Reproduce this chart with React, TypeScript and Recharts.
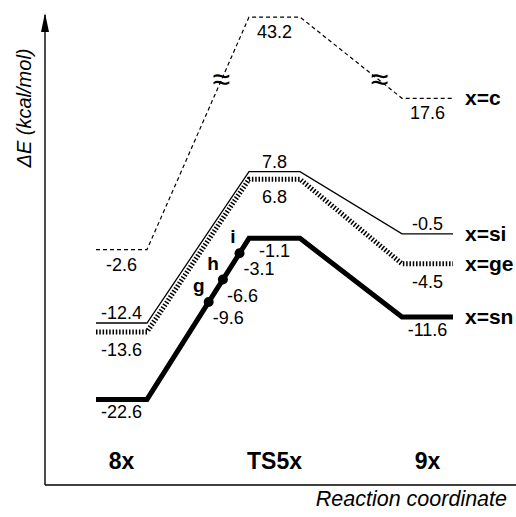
import { ComposedChart, Line, Scatter, XAxis, YAxis, ReferenceDot } from "recharts";

// energy levels (kcal/mol) for 8x -> TS5x -> 9x
const STATES = ["8x", "TS5x", "9x"];
const E_C = [-2.6, 43.2, 17.6];
const E_SI = [-12.4, 7.8, -0.5];
const E_GE = [-13.6, 6.8, -4.5];
const E_SN = [-22.6, -1.1, -11.6];

// marked points along the x=sn rise
const SN_MARKS = ["g", "h", "i"];
const SN_MARK_E = [-9.6, -6.6, -3.1];

// axis break for the x=c curve
const BREAK = 20;
const SQUEEZE = 0.364;
const squeeze = (v: number) => (v > BREAK ? BREAK + (v - BREAK) * SQUEEZE : v);

const FONT = '"Liberation Sans", Arial, Helvetica, sans-serif';

// each state is a flat level: start, middle, end
const levelX = (i: number) => 1 + 3 * i;
const rows = STATES.flatMap((_, i) =>
  [0, 0.5, 1].map((f) => ({
    x: levelX(i) + f,
    c: squeeze(E_C[i]),
    si: E_SI[i],
    ge: E_GE[i],
    sn: E_SN[i],
  }))
);

const snRise = (v: number) =>
  levelX(0) + 1 + ((v - E_SN[0]) / (E_SN[1] - E_SN[0])) * (levelX(1) - levelX(0) - 1);
const markRows = SN_MARKS.map((m, k) => ({ x: snRise(SN_MARK_E[k]), y: SN_MARK_E[k], name: m }));

const cTop = squeeze(E_C[1]);
const gap = levelX(1) - levelX(0) - 1;
const breakRows = [
  { x: levelX(0) + 1 + ((BREAK - E_C[0]) / (cTop - E_C[0])) * gap, y: BREAK },
  { x: levelX(1) + 1 + ((cTop - BREAK) / (cTop - E_C[2])) * gap, y: BREAK },
];

const Y_MIN = -34.03;
const Y_MAX = 28.72;
const W = 508;
const H = 506;
const X_AXIS_H = H - 7 - 470;

const makeLabel = (vals: number[], dy: number, name: string) => (props: any) => {
  const { x, y, index } = props;
  const i = Math.floor(index / 3);
  if (index % 3 === 1) {
    return (
      <text x={x} y={y + dy} textAnchor="middle" fontSize={18} fill="#000" fontFamily={FONT}>
        {vals[i].toFixed(1)}
      </text>
    );
  }
  if (index === rows.length - 1) {
    return (
      <text x={x + 12} y={y + 7} fontSize={21} fontWeight="bold" fill="#000" fontFamily={FONT}>
        {name}
      </text>
    );
  }
  return <g />;
};

const MarkShape = (props: any) => {
  const { cx, cy, payload } = props;
  const k = SN_MARKS.indexOf(payload.name);
  return (
    <g>
      <circle cx={cx} cy={cy} r={5} fill="#000" />
      <text x={cx - 4} y={cy - 10} textAnchor="end" fontSize={19} fontWeight="bold" fontFamily={FONT}>
        {payload.name}
      </text>
      <text x={cx + 4} y={cy + 22} fontSize={18} fontFamily={FONT}>
        {SN_MARK_E[k].toFixed(1)}
      </text>
    </g>
  );
};

const BreakShape = (props: any) => {
  const { cx, cy } = props;
  return (
    <text x={cx} y={cy + 10} textAnchor="middle" fontSize={32} fontFamily={FONT}>
      ≈
    </text>
  );
};

const StateTick = (props: any) => {
  const { x, y, payload } = props;
  const i = Math.round((payload.value - 1.5) / 3);
  return (
    <text x={x} y={y - 16} textAnchor="middle" fontSize={23} fontWeight="bold" fill="#000" fontFamily={FONT}>
      {STATES[i]}
    </text>
  );
};

export default function App() {
  return (
    <div style={{ fontFamily: FONT, width: W, height: H, padding: 8 }}>
      <style>{"html, body { margin: 0; overflow: hidden; }"}</style>
      <ComposedChart width={W} height={H} data={rows} margin={{ top: 7, right: 0, bottom: 0, left: 0 }}>
        <XAxis
          type="number"
          dataKey="x"
          domain={[0, 9.235]}
          allowDataOverflow
          ticks={STATES.map((_, i) => levelX(i) + 0.5)}
          tick={<StateTick />}
          tickLine={false}
          tickSize={0}
          tickMargin={0}
          axisLine={{ stroke: "#000", strokeWidth: 1.6 }}
          height={X_AXIS_H}
          label={{
            content: (p: any) => (
              <text
                x={p.viewBox.x + p.viewBox.width - 9}
                y={p.viewBox.y + 21}
                textAnchor="end"
                fontSize={21.5}
                fontStyle="italic"
                fontFamily={FONT}
              >
                Reaction coordinate
              </text>
            ),
          }}
        />
        <YAxis
          type="number"
          domain={[Y_MIN, Y_MAX]}
          allowDataOverflow
          tick={false}
          tickLine={false}
          width={37}
          axisLine={{ stroke: "#000", strokeWidth: 1.4 }}
          label={{
            content: (p: any) => {
              const cx = p.viewBox.x + 23;
              const cy = p.viewBox.y + 93;
              return (
                <text
                  x={cx}
                  y={cy}
                  transform={`rotate(-90, ${cx}, ${cy})`}
                  textAnchor="middle"
                  fontSize={20}
                  fontStyle="italic"
                  fontFamily={FONT}
                >
                  ΔE (kcal/mol)
                </text>
              );
            },
          }}
        />
        <ReferenceDot
          x={0}
          y={Y_MAX}
          ifOverflow="visible"
          shape={(p: any) => (
            <polygon points={`${p.cx},${p.cy - 2} ${p.cx - 4},${p.cy + 17} ${p.cx + 4},${p.cy + 17}`} fill="#000" />
          )}
        />
        <Line
          type="linear"
          dataKey="c"
          stroke="#000"
          strokeWidth={1.2}
          strokeDasharray="4 3"
          dot={false}
          isAnimationActive={false}
          label={makeLabel(E_C, 21, "x=c")}
        />
        <Line
          type="linear"
          dataKey="si"
          stroke="#000"
          strokeWidth={1.3}
          dot={false}
          isAnimationActive={false}
          label={makeLabel(E_SI, -4, "x=si")}
        />
        <Line
          type="linear"
          dataKey="ge"
          stroke="#000"
          strokeWidth={5}
          strokeDasharray="1.5 1.8"
          dot={false}
          isAnimationActive={false}
          label={makeLabel(E_GE, 24, "x=ge")}
        />
        <Line
          type="linear"
          dataKey="sn"
          stroke="#000"
          strokeWidth={5}
          dot={false}
          isAnimationActive={false}
          label={makeLabel(E_SN, 19, "x=sn")}
        />
        <Scatter data={markRows} dataKey="y" shape={<MarkShape />} isAnimationActive={false} />
        <Scatter data={breakRows} dataKey="y" shape={<BreakShape />} isAnimationActive={false} />
      </ComposedChart>
    </div>
  );
}
